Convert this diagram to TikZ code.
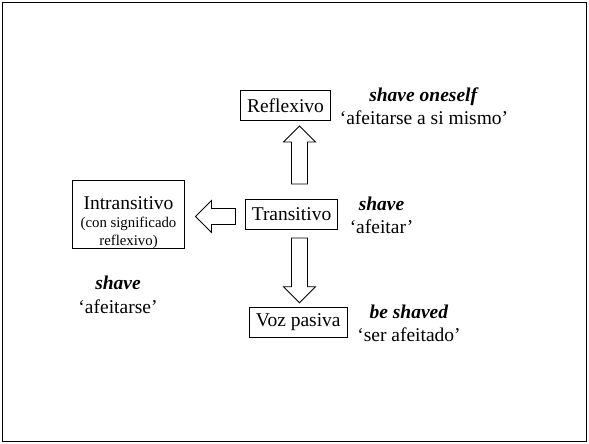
\documentclass[tikz,border=0pt]{standalone}
\usepackage{fontspec}
\setmainfont{Liberation Serif}
\usetikzlibrary{calc,positioning}

% hollow block arrow from #1 to #2
\newcommand{\blockarrow}[2]{%
  \draw ($(#1)!8pt!90:(#2)$)
     -- ($($(#2)!16pt!(#1)$)!8pt!90:(#2)$)
     -- ($($(#2)!16pt!(#1)$)!16pt!90:(#2)$)
     -- (#2)
     -- ($($(#2)!16pt!(#1)$)!16pt!-90:(#2)$)
     -- ($($(#2)!16pt!(#1)$)!8pt!-90:(#2)$)
     -- ($(#1)!8pt!-90:(#2)$) -- cycle;}

\begin{document}
\begin{tikzpicture}[x=1pt,y=1pt,line width=0.8pt,
    box/.style={draw,rectangle,inner xsep=6.5pt,minimum height=30pt,font=\fontsize{19.5}{23.4}\selectfont},
    gloss/.style={align=center,inner sep=0pt,font=\fontsize{19.5}{23.4}\selectfont}]

\useasboundingbox (0,0) rectangle (589,444);
\draw[line width=1.8pt] (2.5,2.5) rectangle (586.5,441.5);

\node[box]                 (refl)    at (285.5,338.3) {Reflexivo};
\node[box]                 (trans)   at (291.5,230)   {Transitivo};
\node[box]                 (pasiva)  at (298.3,122)   {Voz pasiva};
\node[box,align=center,inner sep=0pt,minimum width=112pt,minimum height=65.6pt,
      font=\fontsize{14.8}{18}\selectfont] (intrans) at (128.5,229.5)
      {\rule{0pt}{28.5pt}{\fontsize{19.5}{21.5}\selectfont Intransitivo}\\(con significado\\reflexivo)};

\node[gloss] (glrefl)   at (424,337.5) {\textbf{\textit{shave oneself}}\\‘afeitarse a si mismo’};
\node[gloss] (gltrans)  at (381.5,228.7) {\textbf{\textit{shave}}\\‘afeitar’};
\node[gloss] (glpasiva) at (409,120.7) {\textbf{\textit{be shaved}}\\‘ser afeitado’};
\node[gloss] (glintr)   at (118,149) {\textbf{\textit{shave}}\\‘afeitarse’};

\coordinate (upfoot)   at (299.5,260);
\coordinate (uptip)    at (299.5,318);
\coordinate (downfoot) at (299.5,206);
\coordinate (downtip)  at (299.5,141.3);
\coordinate (leftfoot) at (235.5,227.5);
\coordinate (lefttip)  at (195.5,227.5);

\blockarrow{upfoot}{uptip}
\blockarrow{downfoot}{downtip}
\blockarrow{leftfoot}{lefttip}
\end{tikzpicture}
\end{document}
